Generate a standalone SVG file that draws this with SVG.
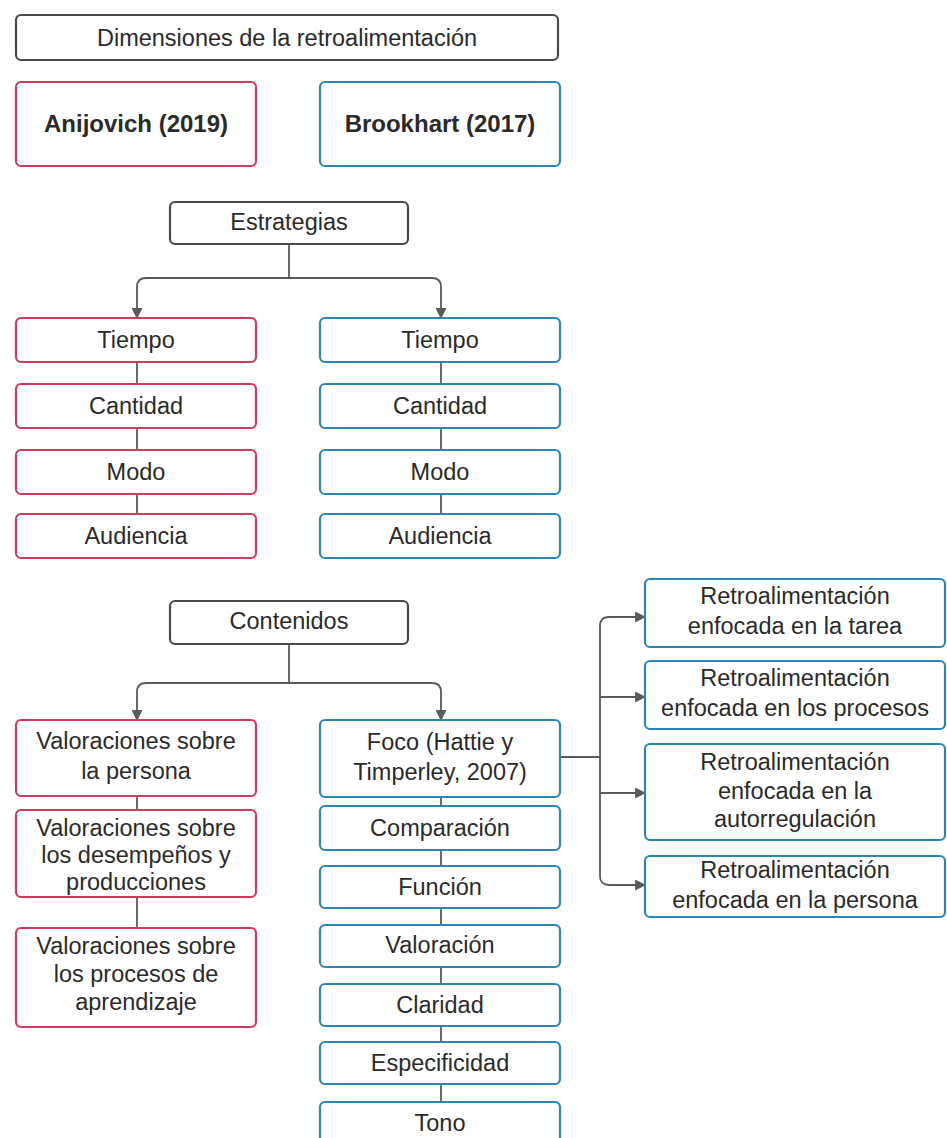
<svg xmlns="http://www.w3.org/2000/svg" width="947" height="1138" viewBox="0 0 947 1138">
<defs>
<style>
.n{fill:#fff;stroke-width:2.2}
.k{stroke:#4a4a4a}
.r{stroke:#d13a5c}
.b{stroke:#2a86b8}
text{font-family:"Liberation Sans",Arial,sans-serif;font-size:23.5px;fill:#2a2a2a;text-anchor:middle}
.bold{font-weight:bold;font-size:24px}
.c{fill:none;stroke:#5a5a5a;stroke-width:1.8}
</style>
<marker id="ar" viewBox="0 0 10 10" refX="9" refY="5" markerWidth="11" markerHeight="11" markerUnits="userSpaceOnUse" orient="auto">
<path d="M0,0 L10,5 L0,10 z" fill="#5a5a5a"/>
</marker>
</defs>
<rect width="947" height="1138" fill="#fff"/>
<g id="connectors">
<path class="c" d="M289,244 V278"/>
<path class="c" d="M146,278 H432 Q441,278 441,287 V318" marker-end="url(#ar)"/>
<path class="c" d="M146,278 Q137,278 137,287 V318" marker-end="url(#ar)"/>
<path class="c" d="M137,362 V384 M137,428 V450 M137,494 V514"/>
<path class="c" d="M441,362 V384 M441,428 V450 M441,494 V514"/>
<path class="c" d="M289,644 V683"/>
<path class="c" d="M146,683 H432 Q441,683 441,692 V720" marker-end="url(#ar)"/>
<path class="c" d="M146,683 Q137,683 137,692 V720" marker-end="url(#ar)"/>
<path class="c" d="M137,796 V810 M137,897 V928"/>
<path class="c" d="M441,797 V806 M441,850 V866 M441,908 V925 M441,967 V984 M441,1026 V1042 M441,1084 V1102"/>
<path class="c" d="M560,757 H600"/>
<path class="c" d="M600,876 V626 Q600,617 609,617 H645" marker-end="url(#ar)"/>
<path class="c" d="M600,697 H645" marker-end="url(#ar)"/>
<path class="c" d="M600,793 H645" marker-end="url(#ar)"/>
<path class="c" d="M600,876 Q600,885 609,885 H645" marker-end="url(#ar)"/>
</g>
<g id="title"><rect class="n k" x="16" y="15" width="542" height="45" rx="5"/><text x="287" y="46">Dimensiones de la retroalimentación</text></g>
<g id="anijovich"><rect class="n r" x="16" y="82" width="240" height="84" rx="5"/><text class="bold" x="136" y="132">Anijovich (2019)</text></g>
<g id="brookhart"><rect class="n b" x="320" y="82" width="240" height="84" rx="5"/><text class="bold" x="440" y="132">Brookhart (2017)</text></g>
<g id="estrategias"><rect class="n k" x="170" y="202" width="238" height="42" rx="5"/><text x="289" y="230">Estrategias</text></g>
<g id="a-tiempo"><rect class="n r" x="16" y="318" width="240" height="44" rx="5"/><text x="136" y="348">Tiempo</text></g>
<g id="a-cantidad"><rect class="n r" x="16" y="384" width="240" height="44" rx="5"/><text x="136" y="414">Cantidad</text></g>
<g id="a-modo"><rect class="n r" x="16" y="450" width="240" height="44" rx="5"/><text x="136" y="480">Modo</text></g>
<g id="a-audiencia"><rect class="n r" x="16" y="514" width="240" height="44" rx="5"/><text x="136" y="544">Audiencia</text></g>
<g id="b-tiempo"><rect class="n b" x="320" y="318" width="240" height="44" rx="5"/><text x="440" y="348">Tiempo</text></g>
<g id="b-cantidad"><rect class="n b" x="320" y="384" width="240" height="44" rx="5"/><text x="440" y="414">Cantidad</text></g>
<g id="b-modo"><rect class="n b" x="320" y="450" width="240" height="44" rx="5"/><text x="440" y="480">Modo</text></g>
<g id="b-audiencia"><rect class="n b" x="320" y="514" width="240" height="44" rx="5"/><text x="440" y="544">Audiencia</text></g>
<g id="contenidos"><rect class="n k" x="170" y="601" width="238" height="43" rx="5"/><text x="289" y="629">Contenidos</text></g>
<g id="a-persona"><rect class="n r" x="16" y="720" width="240" height="76" rx="5"/><text x="136" y="749">Valoraciones sobre</text><text x="136" y="779">la persona</text></g>
<g id="a-desempenos"><rect class="n r" x="16" y="810" width="240" height="87" rx="5"/><text x="136" y="836">Valoraciones sobre</text><text x="136" y="863">los desempeños y</text><text x="136" y="890">producciones</text></g>
<g id="a-procesos"><rect class="n r" x="16" y="928" width="240" height="99" rx="5"/><text x="136" y="954">Valoraciones sobre</text><text x="136" y="982">los procesos de</text><text x="136" y="1010">aprendizaje</text></g>
<g id="foco"><rect class="n b" x="320" y="720" width="240" height="77" rx="5"/><text x="440" y="750">Foco (Hattie y</text><text x="440" y="780">Timperley, 2007)</text></g>
<g id="comparacion"><rect class="n b" x="320" y="806" width="240" height="44" rx="5"/><text x="440" y="836">Comparación</text></g>
<g id="funcion"><rect class="n b" x="320" y="866" width="240" height="42" rx="5"/><text x="440" y="895">Función</text></g>
<g id="valoracion"><rect class="n b" x="320" y="925" width="240" height="42" rx="5"/><text x="440" y="953">Valoración</text></g>
<g id="claridad"><rect class="n b" x="320" y="984" width="240" height="42" rx="5"/><text x="440" y="1013">Claridad</text></g>
<g id="especificidad"><rect class="n b" x="320" y="1042" width="240" height="42" rx="5"/><text x="440" y="1071">Especificidad</text></g>
<g id="tono"><rect class="n b" x="320" y="1102" width="240" height="44" rx="5"/><text x="440" y="1131">Tono</text></g>
<g id="r-tarea"><rect class="n b" x="645" y="579" width="300" height="68" rx="5"/><text x="795" y="604">Retroalimentación</text><text x="795" y="634">enfocada en la tarea</text></g>
<g id="r-procesos"><rect class="n b" x="645" y="661" width="300" height="68" rx="5"/><text x="795" y="686">Retroalimentación</text><text x="795" y="716">enfocada en los procesos</text></g>
<g id="r-autorregulacion"><rect class="n b" x="645" y="744" width="300" height="96" rx="5"/><text x="795" y="770">Retroalimentación</text><text x="795" y="799">enfocada en la</text><text x="795" y="827">autorregulación</text></g>
<g id="r-persona"><rect class="n b" x="645" y="856" width="300" height="61" rx="5"/><text x="795" y="878">Retroalimentación</text><text x="795" y="908">enfocada en la persona</text></g>
</svg>
